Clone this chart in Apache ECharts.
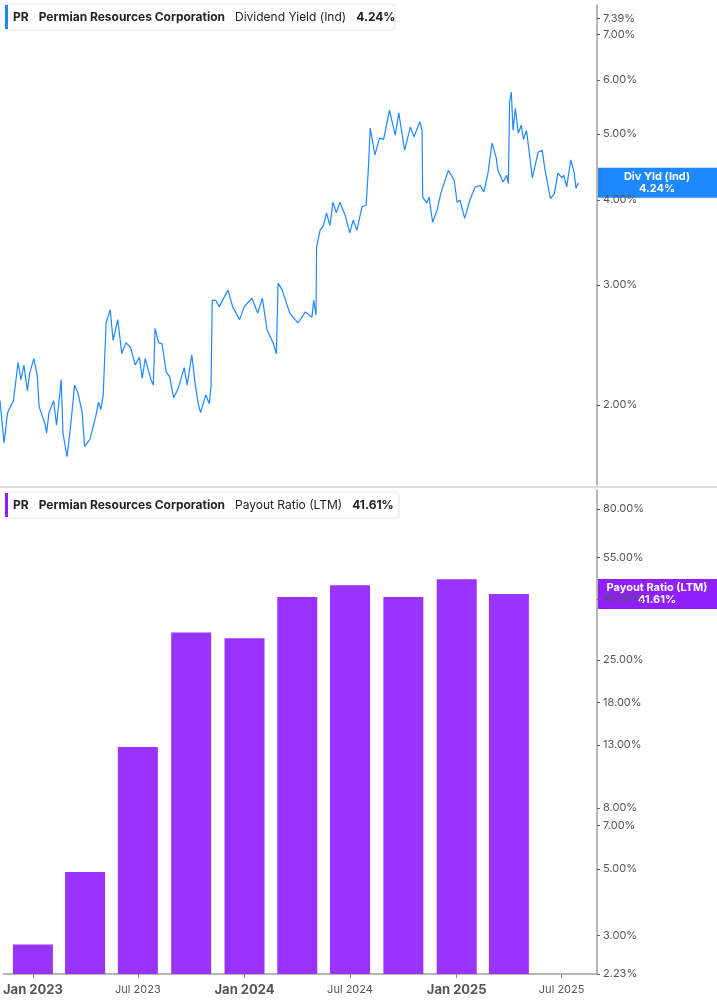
<!DOCTYPE html>
<html><head><meta charset="utf-8">
<script src="https://cdn.jsdelivr.net/npm/echarts@6/dist/echarts.min.js"></script>
<style>html,body{margin:0;padding:0;background:#fff}#c{width:717px;height:1005px}</style>
</head><body><div id="c"></div>
<script>
const baseDate = '2022-11-11';
// Dividend yield (%) : days since baseDate, value
const yieldDays = [0,7,13,23,31,36,41,47,51,58,64,67,77,80,84,92,97,105,108,115,121,128,134,141,145,154,164,169,173,177,182,189,194,202,209,216,224,232,239,244,249,259,263,266,272,278,285,291,298,306,316,321,329,335,340,344,353,359,362,364,370,376,391,399,411,419,432,442,450,458,469,474,477,484,497,511,524,535,538,542,543,549,555,560,566,571,577,583,592,600,606,612,621,628,632,635,643,651,658,668,678,684,694,704,710,720,724,725,732,736,742,750,756,769,779,784,789,797,806,815,824,830,837,844,851,854,863,869,872,874,877,880,884,889,894,898,903,909,913,923,930,935,944,951,957,964,967,972,979,985,988,992];
const yieldVals = [2.03,1.76,1.95,2.03,2.31,2.18,2.29,2.10,2.23,2.34,2.21,1.99,1.88,1.82,1.95,2.03,1.87,2.18,1.82,1.68,1.86,2.14,2.08,1.95,1.74,1.78,1.92,2.02,1.97,2.07,2.64,2.76,2.49,2.67,2.38,2.47,2.43,2.29,2.35,2.19,2.34,2.18,2.14,2.59,2.47,2.46,2.24,2.20,2.05,2.12,2.27,2.14,2.37,2.14,2.01,1.95,2.07,2.01,2.13,2.85,2.85,2.79,2.95,2.79,2.67,2.79,2.87,2.73,2.87,2.58,2.46,2.38,3.02,2.95,2.73,2.64,2.74,2.69,2.85,2.71,3.41,3.61,3.67,3.83,3.67,3.97,3.83,3.97,3.80,3.58,3.74,3.61,3.91,3.93,4.47,5.10,4.66,4.93,4.91,5.42,4.98,5.37,4.73,5.12,4.95,5.21,5.06,4.04,3.96,4.04,3.71,3.87,4.09,4.42,4.28,3.97,4.00,3.76,4.00,4.18,4.20,4.11,4.38,4.85,4.62,4.42,4.25,4.35,4.23,5.57,5.76,5.06,5.45,5.01,5.15,4.91,5.06,4.61,4.31,4.70,4.73,4.42,4.02,4.09,4.38,4.31,4.35,4.18,4.58,4.38,4.16,4.24];
// Payout ratio (%) quarterly
const payoutDates = ['2023-01-01','2023-04-01','2023-07-01','2023-10-01','2024-01-01','2024-04-01','2024-07-01','2024-10-01','2025-01-01','2025-04-01'];
const payoutVals = [2.80,4.89,12.8,30.9,29.6,40.6,44.5,40.6,46.6,41.61];
const topTicks = [2,3,4,5,6,7,7.39];
const botTicks = [2.23,3,5,7,8,13,18,25,40,55,80];
const xTickDates = ['2023-01-01','2023-07-01','2024-01-01','2024-07-01','2025-01-01','2025-07-01'];

const DAY = 864e5;
const t0 = Date.parse(baseDate);
const xMin = t0, xMax = t0 + 1024*DAY;
const L = Math.log;
const lineData = yieldDays.map((d,i)=>[t0+d*DAY, L(yieldVals[i])]);
const barData = payoutDates.map((s,i)=>[Date.parse(s), L(payoutVals[i])]);
const xTicks = xTickDates.map(s=>Date.parse(s));
const MON=['Jan','Feb','Mar','Apr','May','Jun','Jul','Aug','Sep','Oct','Nov','Dec'];
const FONT='Inter';
const fmtPct = v => Math.exp(v).toFixed(2)+'%';

function yAxisCfg(idx, ticks, mn, mx){
  return {gridIndex:idx, type:'value', position:'right', min:L(mn), max:L(mx),
    axisLine:{show:true,lineStyle:{color:'#9e9e9e',width:1.5}},
    splitLine:{show:false},
    axisTick:{show:true,customValues:ticks.map(L),length:3,lineStyle:{color:'#666'}},
    axisLabel:{customValues:ticks.map(L),formatter:v=>fmtPct(v),color:'#555',fontSize:11,fontFamily:FONT,margin:6}};
}
function xAxisCfg(idx, show){
  return {gridIndex:idx,type:'value',min:xMin,max:xMax,
    axisLine:{show:show,onZero:false,lineStyle:{color:'#9e9e9e',width:1.5}},
    splitLine:{show:false},
    axisTick:{show:show,customValues:xTicks,length:4,lineStyle:{color:'#888'}},
    axisLabel:{show:show,customValues:xTicks,margin:10,fontFamily:FONT,
      formatter:v=>{const d=new Date(v);const m=d.getUTCMonth();const y=d.getUTCFullYear();
        return m===0?'{b|Jan '+y+'}':'{s|'+MON[m]+' '+y+'}';},
      rich:{b:{fontSize:13,fontWeight:'bold',color:'#555',fontFamily:FONT},s:{fontSize:11,color:'#555',fontFamily:FONT}}}};
}

const chart = echarts.init(document.getElementById('c'));
chart.setOption({
  animation:false,
  grid:[{left:0,right:120,top:5,height:480},{left:0,right:120,top:490,height:484}],
  xAxis:[xAxisCfg(0,false),xAxisCfg(1,true)],
  yAxis:[yAxisCfg(0,topTicks,1.527,7.73),yAxisCfg(1,botTicks,2.23,92.6)],
  series:[
    {type:'line',xAxisIndex:0,yAxisIndex:0,data:lineData,showSymbol:false,lineStyle:{color:'#1e88ff',width:1.2}},
    {type:'bar',xAxisIndex:1,yAxisIndex:1,data:barData,barWidth:40,itemStyle:{color:'#9933ff'},clip:true}
  ]
});

function legendBox(y, color, metric, val, w){
  return [
    {type:'rect',shape:{x:5,y:y,width:w,height:26,r:3},style:{fill:'#fff',stroke:'#e6e6e6',lineWidth:1}},
    {type:'rect',shape:{x:5,y:y+1,width:3,height:24},style:{fill:color}},
    {type:'text',x:13,y:y+13,style:{text:'{a|PR}   {a|Permian Resources Corporation}   {m|'+metric+'}   {a|'+val+'}',verticalAlign:'middle',
      rich:{a:{fontSize:12,fontWeight:'bold',fill:'#222',fontFamily:FONT},m:{fontSize:12,fill:'#222',fontFamily:FONT}}}}
  ];
}
function valBox(yPix, color, t1, t2){
  return [
    {type:'rect',shape:{x:598,y:yPix-15,width:119,height:30},style:{fill:color}},
    {type:'text',x:657,y:yPix,style:{text:t1+'\n'+t2,align:'center',verticalAlign:'middle',fill:'#fff',fontSize:11,fontWeight:'bold',fontFamily:FONT,lineHeight:12}}
  ];
}
const yTop = chart.convertToPixel({yAxisIndex:0}, L(yieldVals[yieldVals.length-1]));
const yBot = chart.convertToPixel({yAxisIndex:1}, L(payoutVals[payoutVals.length-1]));
chart.setOption({graphic:[
  {type:'rect',shape:{x:0,y:486,width:717,height:2},style:{fill:'#e0e0e0'}},
  ...legendBox(4,'#1e88ff','Dividend Yield (Ind)','4.24%',390),
  ...legendBox(492,'#8f1fff','Payout Ratio (LTM)','41.61%',394),
  ...valBox(yTop,'#1e88ff','Div Yld (Ind)','4.24%'),
  ...valBox(yBot,'#8f1fff','Payout Ratio (LTM)','41.61%')
]});
</script></body></html>
